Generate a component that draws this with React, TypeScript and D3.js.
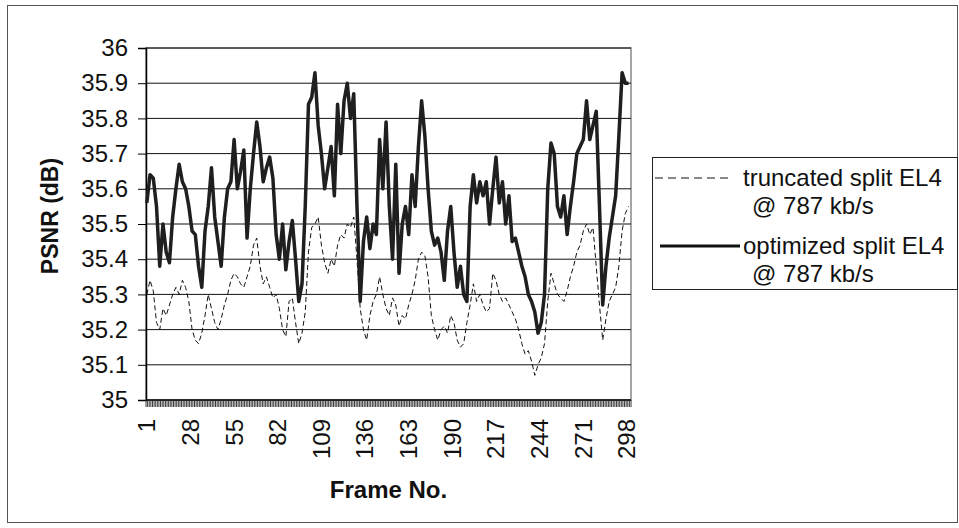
import * as d3 from "d3";
import { useEffect, useRef } from "react";

// frames sampled every second frame (1, 3, ..., 299)
const frames = d3.range(1, 300, 2);

const truncated = [
  35.3, 35.34, 35.31, 35.22, 35.2, 35.26, 35.24, 35.27, 35.3, 35.32,
  35.3, 35.34, 35.32, 35.28, 35.2, 35.17, 35.16, 35.19, 35.24, 35.3,
  35.26, 35.22, 35.2, 35.23, 35.27, 35.3, 35.34, 35.36, 35.35, 35.33,
  35.32, 35.35, 35.38, 35.44, 35.46, 35.38, 35.33, 35.35, 35.32, 35.29,
  35.3, 35.26, 35.2, 35.18, 35.28, 35.29, 35.22, 35.16, 35.19, 35.25,
  35.42, 35.49, 35.5, 35.52, 35.44, 35.39, 35.36, 35.4, 35.38, 35.44,
  35.47, 35.46, 35.5, 35.49, 35.52, 35.4, 35.26, 35.2, 35.17, 35.24,
  35.28, 35.3, 35.35, 35.3, 35.26, 35.24, 35.29, 35.27, 35.21, 35.24,
  35.23, 35.27, 35.3, 35.34, 35.4, 35.42, 35.41, 35.35, 35.24, 35.2,
  35.17, 35.2, 35.21, 35.19, 35.24, 35.22, 35.17, 35.15, 35.16, 35.22,
  35.27, 35.33, 35.28, 35.3, 35.27, 35.25, 35.26, 35.36, 35.34, 35.3,
  35.28, 35.29, 35.27, 35.25, 35.23, 35.2, 35.16, 35.13, 35.14, 35.11,
  35.07, 35.1, 35.12, 35.16, 35.28, 35.36, 35.33, 35.3, 35.29, 35.28,
  35.31, 35.35, 35.38, 35.42, 35.44, 35.48, 35.5, 35.47, 35.49, 35.38,
  35.27, 35.17, 35.23, 35.28, 35.3, 35.32, 35.38, 35.48, 35.53, 35.55,
];

const optimized = [
  35.56, 35.64, 35.63, 35.55, 35.38, 35.5, 35.42, 35.39, 35.52, 35.6,
  35.67, 35.62, 35.6, 35.55, 35.48, 35.47, 35.38, 35.32, 35.48, 35.55,
  35.66, 35.52, 35.45, 35.38, 35.52, 35.6, 35.62, 35.74, 35.6, 35.65,
  35.71, 35.46, 35.6, 35.7, 35.79, 35.72, 35.62, 35.66, 35.69, 35.63,
  35.47, 35.4, 35.5, 35.37, 35.45, 35.51, 35.4, 35.28, 35.33, 35.55,
  35.84, 35.86, 35.93, 35.78, 35.7, 35.6, 35.66, 35.72, 35.58, 35.84,
  35.7, 35.85, 35.9, 35.8, 35.87, 35.55, 35.28, 35.45, 35.52, 35.43,
  35.5, 35.47, 35.74, 35.6, 35.79, 35.55, 35.4, 35.67, 35.36, 35.5,
  35.55, 35.47, 35.64, 35.55, 35.72, 35.85, 35.75, 35.6, 35.48, 35.44,
  35.46, 35.42, 35.34, 35.48, 35.55, 35.42, 35.32, 35.38, 35.3, 35.28,
  35.55, 35.64, 35.56, 35.62, 35.58, 35.62, 35.5, 35.6, 35.69, 35.56,
  35.62, 35.5, 35.58, 35.45, 35.46, 35.42, 35.38, 35.35, 35.3, 35.28,
  35.25, 35.19, 35.22, 35.3, 35.6, 35.73, 35.7, 35.55, 35.52, 35.58,
  35.47, 35.55, 35.62, 35.7, 35.72, 35.74, 35.85, 35.74, 35.78, 35.82,
  35.55, 35.27, 35.38, 35.46, 35.52, 35.58, 35.75, 35.93, 35.9, 35.9,
];

const yTicks = [35, 35.1, 35.2, 35.3, 35.4, 35.5, 35.6, 35.7, 35.8, 35.9, 36];
const xTickLabels = ["1", "28", "55", "82", "109", "136", "163", "190", "217", "244", "271", "298"];
const seriesNames = [
  ["truncated split EL4", "@ 787 kb/s"],
  ["optimized split EL4", "@ 787 kb/s"],
];

export default function App() {
  const ref = useRef<SVGSVGElement>(null);

  useEffect(() => {
    document.body.style.margin = "0";
    const svg = d3.select(ref.current);
    svg.selectAll("*").remove();

    const left = 146, right = 631, top = 48, bottom = 400;
    const font = "'Liberation Sans', Arial, sans-serif";

    const x = d3
      .scaleBand<number>()
      .domain(d3.range(1, 301))
      .range([left, right]);
    const bw = x.bandwidth();
    const y = d3.scaleLinear().domain([35, 36]).range([bottom, top]);

    // outer chart border
    svg
      .append("rect")
      .attr("x", 7.5)
      .attr("y", 5.5)
      .attr("width", 950)
      .attr("height", 517)
      .attr("fill", "#fff")
      .attr("stroke", "#555")
      .attr("stroke-width", 1);

    // plot area border
    svg
      .append("rect")
      .attr("x", left)
      .attr("y", top)
      .attr("width", right - left)
      .attr("height", bottom - top)
      .attr("fill", "none")
      .attr("stroke", "#888")
      .attr("stroke-width", 1.5);

    // gridlines
    svg
      .append("g")
      .selectAll("line")
      .data(yTicks.slice(1))
      .join("line")
      .attr("x1", left)
      .attr("x2", right)
      .attr("y1", (d) => y(d))
      .attr("y2", (d) => y(d))
      .attr("stroke", "#111")
      .attr("stroke-width", 1);

    // y axis
    const yAxis = svg
      .append("g")
      .attr("transform", `translate(${left},0)`)
      .call(
        d3
          .axisLeft(y)
          .tickValues(yTicks)
          .tickSize(8)
          .tickPadding(10)
          .tickFormat((d) => String(+(+d).toFixed(1)))
      );
    yAxis.select(".domain").attr("stroke", "#000").attr("stroke-width", 1.5);
    yAxis
      .selectAll("text")
      .attr("font-family", font)
      .attr("font-size", 24)
      .attr("fill", "#111");

    // x axis: category axis with a tick between every frame
    svg
      .append("line")
      .attr("x1", left)
      .attr("x2", right)
      .attr("y1", bottom)
      .attr("y2", bottom)
      .attr("stroke", "#000")
      .attr("stroke-width", 1.5);
    svg
      .append("g")
      .selectAll("line")
      .data(d3.range(0, 301))
      .join("line")
      .attr("x1", (i) => left + i * bw)
      .attr("x2", (i) => left + i * bw)
      .attr("y1", bottom)
      .attr("y2", bottom + 7)
      .attr("stroke", "#222")
      .attr("stroke-width", 0.9);

    svg
      .append("g")
      .selectAll("text")
      .data(xTickLabels)
      .join("text")
      .attr("transform", (d) => `translate(${x(+d)! + bw / 2},419) rotate(-90)`)
      .attr("dy", "0.35em")
      .attr("text-anchor", "end")
      .attr("font-family", font)
      .attr("font-size", 24)
      .attr("fill", "#111")
      .text((d) => d);

    // axis titles
    svg
      .append("text")
      .attr("x", (left + right) / 2)
      .attr("y", 498)
      .attr("text-anchor", "middle")
      .attr("font-family", font)
      .attr("font-size", 24)
      .attr("font-weight", "bold")
      .attr("fill", "#111")
      .text("Frame No.");
    svg
      .append("text")
      .attr("transform", "translate(58,216) rotate(-90)")
      .attr("text-anchor", "middle")
      .attr("font-family", font)
      .attr("font-size", 23)
      .attr("font-weight", "bold")
      .attr("fill", "#111")
      .text("PSNR (dB)");

    const line = d3
      .line<number>()
      .x((_, i) => x(frames[i])! + bw / 2)
      .y((d) => y(d));

    svg
      .append("path")
      .datum(truncated)
      .attr("d", line)
      .attr("fill", "none")
      .attr("stroke", "#111")
      .attr("stroke-width", 1)
      .attr("stroke-dasharray", "5,3");

    svg
      .append("path")
      .datum(optimized)
      .attr("d", line)
      .attr("fill", "none")
      .attr("stroke", "#1f1f1f")
      .attr("stroke-width", 3.5)
      .attr("stroke-linejoin", "round");

    // legend
    const lg = svg.append("g");
    lg.append("rect")
      .attr("x", 652.5)
      .attr("y", 157.5)
      .attr("width", 305)
      .attr("height", 132)
      .attr("fill", "#fff")
      .attr("stroke", "#222")
      .attr("stroke-width", 1);

    const entryY = [178, 246];
    const samples = [
      { x1: 655, x2: 732, w: 1, dash: "8,5" },
      { x1: 660, x2: 740, w: 3, dash: null },
    ];
    seriesNames.forEach((lines, k) => {
      lg.append("line")
        .attr("x1", samples[k].x1)
        .attr("x2", samples[k].x2)
        .attr("y1", entryY[k])
        .attr("y2", entryY[k])
        .attr("stroke", "#111")
        .attr("stroke-width", samples[k].w)
        .attr("stroke-dasharray", samples[k].dash);
      lg.append("g")
        .selectAll("text")
        .data(lines)
        .join("text")
        .attr("x", (d, j) => (j === 0 ? 743 : 752))
        .attr("y", (d, j) => entryY[k] + j * 28)
        .attr("dy", "0.35em")
        .attr("font-family", font)
        .attr("font-size", 24)
        .attr("fill", "#111")
        .text((d) => d);
    });
  }, []);

  return <svg ref={ref} width={959} height={528} style={{ display: "block" }} />;
}
